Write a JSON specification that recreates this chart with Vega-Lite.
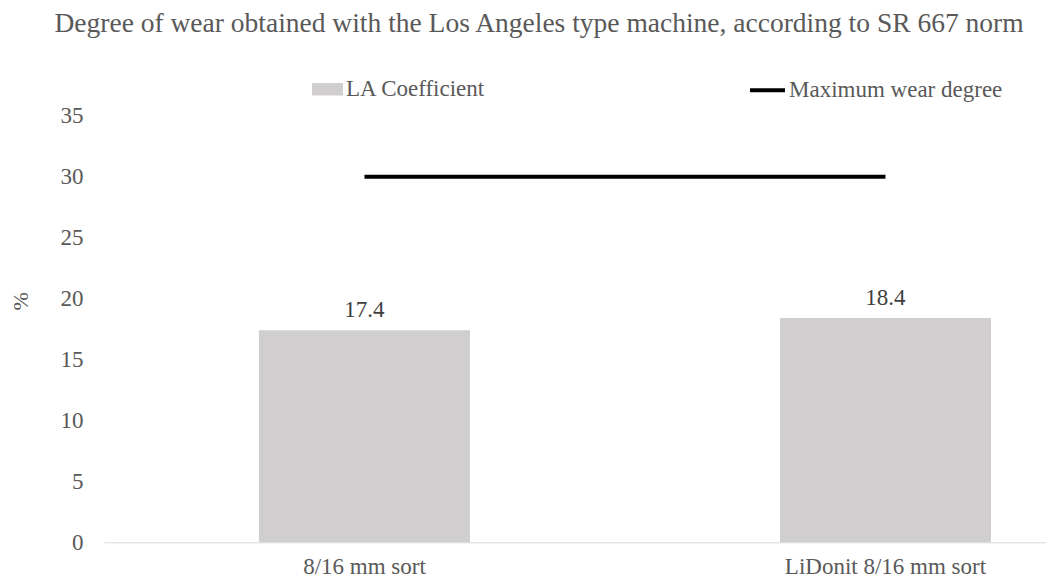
{
  "$schema": "https://vega.github.io/schema/vega-lite/v6.json",
  "width": 942,
  "height": 426.5,
  "autosize": {"type": "none"},
  "padding": {"left": 104, "top": 115.8, "right": 0, "bottom": 40.7},
  "background": "white",
  "title": {
    "text": "Degree of wear obtained with the Los Angeles type machine, according to SR 667 norm",
    "font": "Liberation Serif",
    "fontSize": 27.5,
    "fontWeight": "normal",
    "color": "#595959",
    "anchor": "middle",
    "dx": -36,
    "offset": 33,
    "limit": 1040
  },
  "config": {
    "view": {"stroke": null},
    "font": "Liberation Serif"
  },
  "data": {
    "values": [
      {"category": "8/16 mm sort", "la": 17.4, "max": 30, "s1": "LA Coefficient", "s2": "Maximum wear degree"},
      {"category": "LiDonit 8/16 mm sort", "la": 18.4, "max": 30, "s1": "LA Coefficient", "s2": "Maximum wear degree"}
    ]
  },
  "encoding": {
    "x": {
      "field": "category",
      "type": "nominal",
      "sort": null,
      "scale": {"paddingInner": 0.595, "paddingOuter": 0.2015, "align": 0.738},
      "axis": {
        "title": null,
        "labelAngle": 0,
        "labelFont": "Liberation Serif",
        "labelFontSize": 23,
        "labelColor": "#595959",
        "labelPadding": 13,
        "labelLimit": 500,
        "ticks": false,
        "domainColor": "#d9d9d9",
        "domainWidth": 1
      }
    }
  },
  "layer": [
    {
      "mark": {"type": "bar", "color": "#d0cece"},
      "encoding": {
        "y": {
          "field": "la",
          "type": "quantitative",
          "scale": {"domain": [0, 35], "nice": false},
          "axis": {
            "title": "%",
            "titleFont": "Liberation Serif",
            "titleFontSize": 22,
            "titleFontWeight": "normal",
            "titleColor": "#595959",
            "titleX": -84,
            "titleY": 185,
            "titleAngle": -90,
            "titleAlign": "center",
            "titleBaseline": "middle",
            "values": [0, 5, 10, 15, 20, 25, 30, 35],
            "labelFont": "Liberation Serif",
            "labelFontSize": 23,
            "labelColor": "#595959",
            "labelPadding": 21,
            "ticks": false,
            "domain": false,
            "grid": false
          }
        },
        "fill": {
          "field": "s1",
          "type": "nominal",
          "scale": {"range": ["#d0cece"]},
          "legend": {
            "title": null,
            "orient": "none",
            "legendX": 208,
            "legendY": -42,
            "symbolType": "M-1,-0.4H1V0.4H-1Z",
            "symbolSize": 961,
            "symbolStrokeWidth": 0,
            "labelFont": "Liberation Serif",
            "labelFontSize": 23,
            "labelColor": "#595959",
            "labelOffset": 3,
            "labelLimit": 400
          }
        }
      }
    },
    {
      "mark": {"type": "line", "strokeWidth": 4, "color": "black"},
      "encoding": {
        "y": {"field": "max", "type": "quantitative"},
        "stroke": {
          "field": "s2",
          "type": "nominal",
          "scale": {"range": ["black"]},
          "legend": {
            "title": null,
            "orient": "none",
            "legendX": 644,
            "legendY": -45,
            "symbolType": "stroke",
            "symbolSize": 1225,
            "symbolStrokeWidth": 4,
            "labelFont": "Liberation Serif",
            "labelFontSize": 23,
            "labelColor": "#595959",
            "labelOffset": 2,
            "labelLimit": 400
          }
        }
      }
    },
    {
      "mark": {"type": "text", "font": "Liberation Serif", "fontSize": 23, "color": "#404040", "baseline": "alphabetic", "dy": -13},
      "encoding": {
        "y": {"field": "la", "type": "quantitative"},
        "text": {"field": "la", "type": "quantitative", "format": ".1f"}
      }
    }
  ]
}
